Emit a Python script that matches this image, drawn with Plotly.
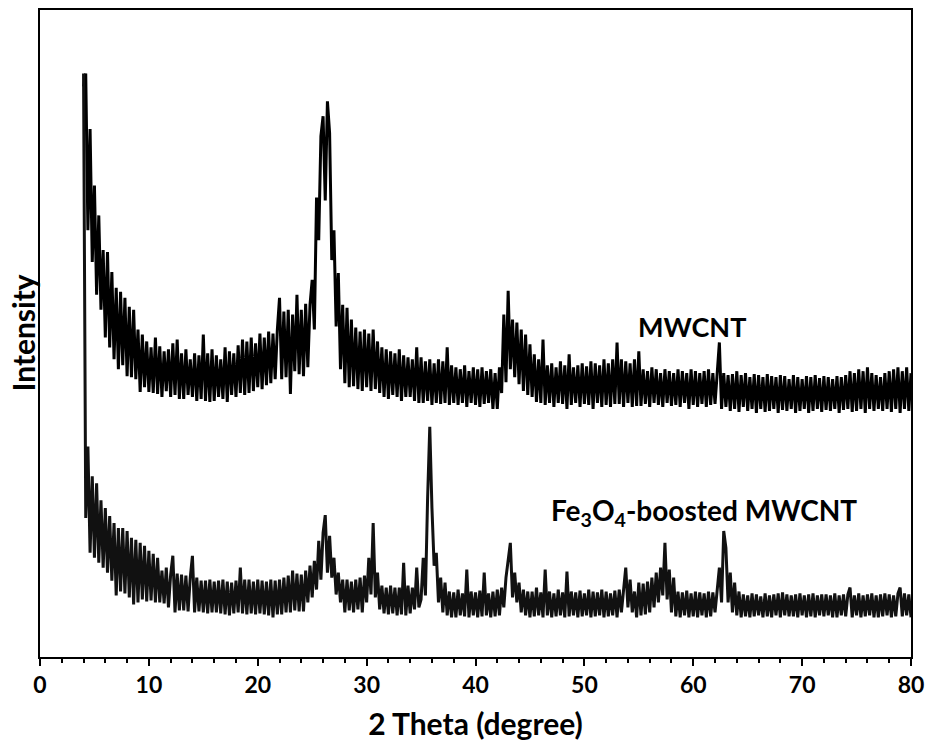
import numpy as np
import plotly.graph_objects as go

# 2-theta sampling grid (degrees), 0.2 degree step from 4 to 80
two_theta = np.round(np.arange(4.0, 80.001, 0.2), 2)

# Intensity (arbitrary units), 5 samples per degree
mwcnt = [
    575, 588, 430, 532, 398,   # 4
    475, 365, 445, 350, 410,   # 5
    322, 408, 312, 388, 300,   # 6
    372, 290, 368, 294, 362,   # 7
    283, 353, 282, 350, 280,   # 8
    330, 267, 325, 272, 318,   # 9
    267, 312, 266, 322, 265,   # 10
    313, 262, 308, 268, 310,   # 11
    262, 316, 264, 320, 260,   # 12
    306, 260, 310, 264, 300,   # 13
    262, 306, 258, 304, 260,   # 14
    325, 258, 306, 257, 310,   # 15
    258, 304, 262, 300, 260,   # 16
    312, 257, 308, 264, 306,   # 17
    262, 314, 266, 320, 264,   # 18
    318, 266, 322, 268, 316,   # 19
    272, 326, 270, 322, 274,   # 20
    328, 276, 326, 280, 330,   # 21
    362, 280, 348, 282, 350,   # 22
    265, 345, 288, 365, 285,   # 23
    350, 283, 356, 292, 355,   # 24
    380, 330, 463, 420, 525,   # 25
    545, 460, 560, 528, 400,   # 26
    430, 333, 387, 290, 355,   # 27
    276, 352, 272, 340, 273,   # 28
    332, 270, 328, 268, 330,   # 29
    272, 326, 268, 330, 270,   # 30
    318, 266, 312, 262, 310,   # 31
    260, 308, 264, 306, 262,   # 32
    310, 258, 304, 262, 302,   # 33
    262, 300, 258, 312, 256,   # 34
    302, 256, 298, 258, 300,   # 35
    254, 296, 256, 300, 255,   # 36
    298, 256, 312, 254, 294,   # 37
    256, 292, 254, 290, 256,   # 38
    294, 252, 288, 256, 292,   # 39
    254, 290, 252, 292, 255,   # 40
    288, 256, 290, 250, 286,   # 41
    250, 292, 266, 345, 277,   # 42
    369, 290, 340, 282, 337,   # 43
    275, 330, 268, 325, 264,   # 44
    315, 262, 305, 257, 300,   # 45
    256, 320, 254, 294, 256,   # 46
    296, 252, 292, 256, 298,   # 47
    255, 294, 250, 305, 254,   # 48
    292, 256, 294, 252, 296,   # 49
    255, 293, 254, 298, 250,   # 50
    296, 256, 294, 252, 300,   # 51
    254, 296, 252, 300, 255,   # 52
    317, 255, 300, 252, 298,   # 53
    256, 296, 252, 300, 253,   # 54
    308, 253, 290, 255, 288,   # 55
    252, 292, 256, 290, 254,   # 56
    286, 252, 290, 256, 288,   # 57
    253, 286, 254, 290, 252,   # 58
    288, 256, 286, 250, 290,   # 59
    254, 288, 252, 286, 255,   # 60
    288, 252, 290, 254, 286,   # 61
    255, 288, 317, 250, 286,   # 62
    252, 284, 248, 285, 250,   # 63
    288, 247, 284, 252, 286,   # 64
    248, 282, 250, 285, 246,   # 65
    284, 250, 282, 247, 285,   # 66
    248, 283, 250, 282, 246,   # 67
    284, 249, 283, 248, 280,   # 68
    250, 284, 246, 282, 248,   # 69
    280, 250, 283, 246, 282,   # 70
    248, 284, 250, 281, 247,   # 71
    283, 249, 282, 248, 280,   # 72
    250, 283, 246, 282, 249,   # 73
    284, 250, 288, 247, 286,   # 74
    248, 290, 250, 288, 246,   # 75
    292, 250, 286, 248, 284,   # 76
    250, 282, 248, 286, 250,   # 77
    288, 247, 290, 250, 292,   # 78
    246, 288, 250, 292, 248,   # 79
    286,                       # 80
]

fe3o4_mwcnt = [
    588, 140, 212, 105, 182,   # 4
    100, 175, 95, 158, 90,     # 5
    150, 85, 142, 77, 135,     # 6
    62, 130, 66, 130, 64,      # 7
    127, 60, 120, 53, 118,     # 8
    55, 115, 58, 112, 56,      # 9
    107, 57, 104, 55, 100,     # 10
    55, 87, 54, 90, 50,        # 11
    83, 102, 45, 84, 47,       # 12
    83, 47, 82, 46, 80,        # 13
    102, 45, 80, 46, 77,       # 14
    45, 77, 44, 78, 45,        # 15
    76, 45, 77, 44, 78,        # 16
    43, 76, 42, 75, 44,        # 17
    77, 45, 90, 44, 78,        # 18
    43, 78, 44, 76, 43,        # 19
    78, 44, 77, 43, 76,        # 20
    42, 78, 40, 77, 43,        # 21
    78, 43, 80, 45, 82,        # 22
    45, 87, 47, 84, 46,        # 23
    83, 46, 87, 55, 92,        # 24
    60, 97, 68, 117, 78,       # 25
    125, 143, 85, 122, 80,     # 26
    100, 63, 85, 55, 78,       # 27
    45, 78, 47, 76, 45,        # 28
    78, 48, 80, 45, 82,        # 29
    55, 100, 63, 135, 60,      # 30
    85, 48, 72, 44, 70,        # 31
    43, 72, 44, 70, 42,        # 32
    70, 43, 95, 42, 72,        # 33
    44, 70, 48, 90, 50,        # 34
    58, 100, 62, 160, 232,     # 35
    150, 92, 105, 55, 80,      # 36
    45, 75, 42, 66, 40,        # 37
    65, 40, 68, 42, 64,        # 38
    41, 88, 40, 66, 42,        # 39
    65, 40, 67, 41, 85,        # 40
    42, 64, 40, 66, 41,        # 41
    68, 42, 70, 50, 80,        # 42
    97, 115, 60, 85, 55,       # 43
    75, 45, 68, 42, 66,        # 44
    40, 66, 41, 70, 42,        # 45
    65, 40, 88, 42, 66,        # 46
    40, 64, 41, 68, 42,        # 47
    65, 40, 86, 41, 66,        # 48
    42, 65, 40, 67, 41,        # 49
    64, 42, 68, 40, 66,        # 50
    41, 65, 42, 68, 40,        # 51
    66, 41, 64, 42, 67,        # 52
    40, 68, 45, 72, 90,        # 53
    50, 78, 45, 66, 40,        # 54
    75, 42, 74, 43, 76,        # 55
    45, 80, 50, 85, 55,        # 56
    90, 62, 115, 58, 88,       # 57
    45, 80, 41, 66, 40,        # 58
    65, 42, 67, 40, 64,        # 59
    41, 66, 40, 65, 42,        # 60
    64, 40, 66, 41, 65,        # 61
    45, 70, 90, 55, 127,       # 62
    110, 55, 85, 45, 75,       # 63
    42, 66, 40, 63, 41,        # 64
    62, 40, 64, 41, 63,        # 65
    42, 61, 40, 64, 41,        # 66
    62, 40, 63, 42, 64,        # 67
    40, 65, 42, 63, 41,        # 68
    62, 41, 63, 40, 64,        # 69
    42, 62, 40, 63, 41,        # 70
    64, 40, 62, 42, 63,        # 71
    41, 63, 42, 62, 40,        # 72
    64, 40, 62, 42, 63,        # 73
    41, 63, 70, 40, 62,        # 74
    42, 64, 40, 62, 41,        # 75
    63, 42, 64, 40, 62,        # 76
    40, 63, 41, 64, 42,        # 77
    63, 40, 62, 41, 64,        # 78
    70, 41, 64, 42, 63,        # 79
    40,                        # 80
]

series_labels = ["MWCNT", "Fe<sub>3</sub>O<sub>4</sub>-boosted MWCNT"]
x_ticks = [0, 10, 20, 30, 40, 50, 60, 70, 80]

FONT = "Lato"

fig = go.Figure()
fig.add_trace(go.Scatter(x=two_theta, y=mwcnt, mode="lines",
                         line=dict(color="black", width=3.0), name=series_labels[0]))
fig.add_trace(go.Scatter(x=two_theta, y=fe3o4_mwcnt, mode="lines",
                         line=dict(color="#111111", width=3.0), name=series_labels[1]))

fig.add_annotation(x=59.9, y=333, text=series_labels[0], showarrow=False,
                   font=dict(family=FONT, size=27, color="black", weight="bold"),
                   xanchor="center", yanchor="middle")
fig.add_annotation(x=61.0, y=146, text=series_labels[1], showarrow=False,
                   font=dict(family=FONT, size=28, color="black", weight="bold"),
                   xanchor="center", yanchor="middle")
# y-axis title
fig.add_annotation(x=0, y=0.5, xref="paper", yref="paper", text="Intensity",
                   textangle=-90, showarrow=False, xanchor="center", yanchor="middle",
                   xshift=-18,
                   font=dict(family=FONT, size=30, color="black", weight="bold"))

fig.update_layout(
    width=932, height=744,
    margin=dict(l=40, r=16, t=8, b=84),
    plot_bgcolor="white", paper_bgcolor="white",
    showlegend=False,
    font=dict(family=FONT, color="black"),
)
fig.update_xaxes(
    range=[0, 80], tickvals=x_ticks, ticks="outside", ticklen=7, tickwidth=1.5,
    tickcolor="black",
    minor=dict(dtick=2, ticks="outside", ticklen=4, tickwidth=1.5, tickcolor="black"),
    showline=True, mirror=True, linecolor="black", linewidth=1.5,
    showgrid=False, zeroline=False,
    tickfont=dict(family=FONT, size=23, color="black", weight="bold"),
    title=dict(text="2 Theta (degree)", standoff=17,
               font=dict(family=FONT, size=30, color="black", weight="bold")),
)
fig.update_yaxes(
    range=[0, 652], showticklabels=False, ticks="",
    showline=True, mirror=True, linecolor="black", linewidth=1.5,
    showgrid=False, zeroline=False,
)

fig.write_html("out.html")
